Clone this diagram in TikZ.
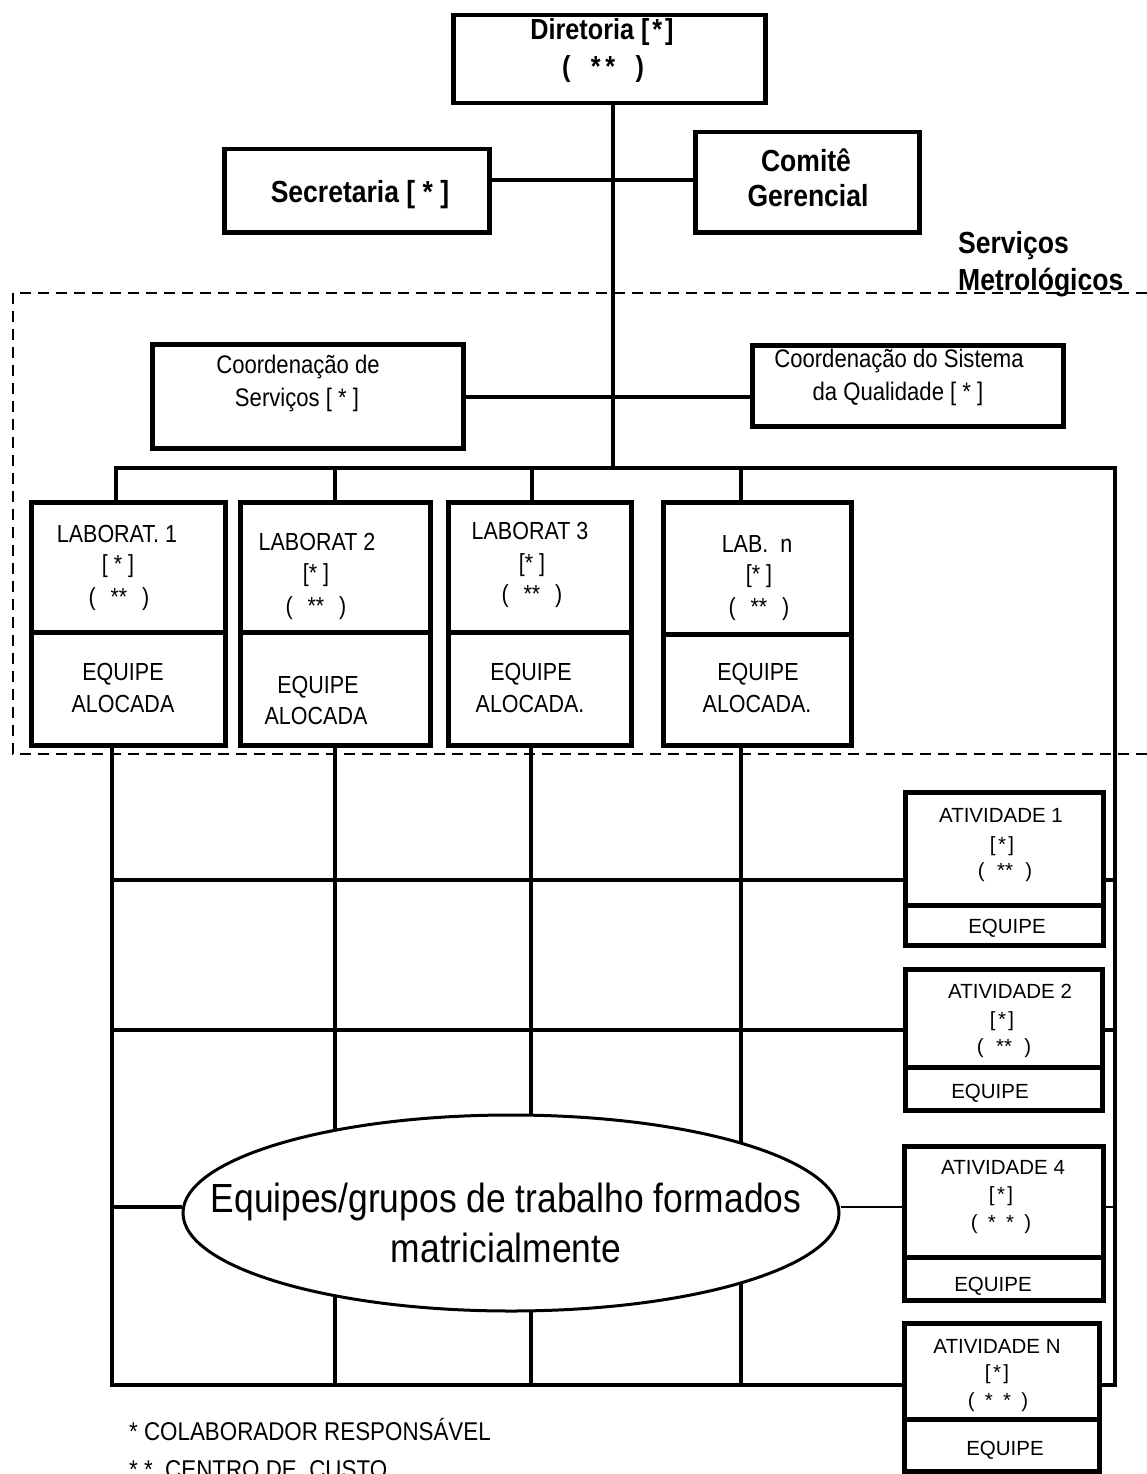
\documentclass[tikz,border=0pt]{standalone}
\usepackage{fontspec}
\setmainfont{Liberation Sans}
\newfontfamily\nar[FakeStretch=0.87]{Liberation Sans}
\usetikzlibrary{shapes.geometric}

% Bracketed markers used inside the boxes
\newcommand{\resp}{[\hspace{0.12em}*\hspace{0.12em}]}
\newcommand{\cc}{(\hspace{0.6em}**\hspace{0.6em})}
\newcommand{\ccs}{(\hspace{0.5em}*\hspace{0.5em}*\hspace{0.5em})}

\begin{document}
\begin{tikzpicture}[x=1pt,y=-1pt,
  box/.style={draw, line width=4.5pt, inner sep=0pt, anchor=north west},
  link/.style={line width=3.3pt},
  frame/.style={line width=2pt, dash pattern=on 11pt off 7pt},
  txt/.style={anchor=base, inner sep=0pt},
  hd/.style={txt, font=\nar\bfseries\fontsize{30.5}{36}\selectfont},
  hdtop/.style={txt, font=\nar\bfseries\fontsize{29}{34}\selectfont},
  co/.style={txt, font=\nar\fontsize{25.4}{30}\selectfont},
  lb/.style={txt, font=\nar\fontsize{24.7}{30}\selectfont},
  ac/.style={txt, font=\fontsize{20.5}{24}\selectfont},
  big/.style={txt, font=\nar\fontsize{40.7}{48}\selectfont},
  fn/.style={anchor=base west, inner sep=0pt, font=\nar\fontsize{25.7}{30}\selectfont}]
\useasboundingbox (0,0) rectangle (1147,1474);
\fill[white] (0,0) rectangle (1147,1474);

% Service area frame (open to the right)
\draw[frame] (1147,293) -- (13,293) -- (13,754) -- (1147,754);

% Top management
\node[box, minimum width=312, minimum height=88] (dir) at (451,13) {};
\node[hdtop] (dirA) at (602,40) {Diretoria [\hspace{0.1em}*\hspace{0.1em}]};
\node[hdtop] (dirB) at (603,77) {(\hspace{0.7em}*\,*\hspace{0.7em})};

\node[box, minimum width=265, minimum height=83] (sec) at (222,147) {};
\node[hd] (secA) at (360,203) {Secretaria [ * ]};

\node[box, minimum width=224, minimum height=100] (com) at (693,130) {};
\node[hd] (comA) at (806,172) {Comitê};
\node[hd] (comB) at (808,207) {Gerencial};

\node[hd, anchor=base west] (svA) at (958,253) {Serviços};
\node[hd, anchor=base west] (svB) at (958,290) {Metrológicos};

% Coordinations
\node[box, minimum width=311, minimum height=104] (cs) at (150,342) {};
\node[co] (csA) at (298,373) {Coordenação de};
\node[co] (csB) at (297,406) {Serviços [ *  ]};

\node[box, minimum width=311, minimum height=81] (cq) at (750,343) {};
\node[co] (cqA) at (899,367) {Coordenação do Sistema};
\node[co] (cqB) at (898,400) {da Qualidade [ * ]};

% Laboratories: head part and team part
\node[box, minimum width=194, minimum height=130] (l1) at (29,500) {};
\node[box, minimum width=194, minimum height=113] (l1e) at (29,630) {};
\node[box, minimum width=190, minimum height=130] (l2) at (238,500) {};
\node[box, minimum width=190, minimum height=113] (l2e) at (238,630) {};
\node[box, minimum width=183, minimum height=130] (l3) at (446,500) {};
\node[box, minimum width=183, minimum height=113] (l3e) at (446,630) {};
\node[box, minimum width=188, minimum height=132] (ln) at (661,500) {};
\node[box, minimum width=188, minimum height=111] (lne) at (661,632) {};

\node[lb] (l1a) at (117,542) {LABORAT. 1};
\node[lb] (l1b) at (118,572) {[ * ]};
\node[lb] (l1c) at (119,605) {\cc};
\node[lb] (l1d) at (123,680) {EQUIPE};
\node[lb] (l1f) at (123,712) {ALOCADA};

\node[lb] (l2a) at (317,550) {LABORAT 2};
\node[lb] (l2b) at (316,581) {[* ]};
\node[lb] (l2c) at (316,614) {\cc};
\node[lb] (l2d) at (318,693) {EQUIPE};
\node[lb] (l2f) at (316,724) {ALOCADA};

\node[lb] (l3a) at (530,539) {LABORAT 3};
\node[lb] (l3b) at (532,571) {[* ]};
\node[lb] (l3c) at (532,602) {\cc};
\node[lb] (l3d) at (531,680) {EQUIPE};
\node[lb] (l3f) at (530,712) {ALOCADA.};

\node[lb] (lna) at (757,552) {LAB.\ \ n};
\node[lb] (lnb) at (759,582) {[* ]};
\node[lb] (lnc) at (759,615) {\cc};
\node[lb] (lnd) at (758,680) {EQUIPE};
\node[lb] (lnf) at (757,712) {ALOCADA.};

% Activities: head part and team part
\node[box, minimum width=198, minimum height=113] (a1) at (903,790) {};
\node[box, minimum width=198, minimum height=40] (a1e) at (903,903) {};
\node[box, minimum width=197, minimum height=98] (a2) at (903,967) {};
\node[box, minimum width=197, minimum height=43] (a2e) at (903,1065) {};
\node[box, minimum width=199, minimum height=111] (a4) at (902,1144) {};
\node[box, minimum width=199, minimum height=43] (a4e) at (902,1255) {};
\node[box, minimum width=195, minimum height=96] (an) at (902,1321) {};
\node[box, minimum width=195, minimum height=52] (ane) at (902,1417) {};

\node[ac] (a1a) at (1001,822) {ATIVIDADE 1};
\node[ac] (a1b) at (1002,851) {\resp};
\node[ac] (a1c) at (1005,877) {\cc};
\node[ac] (a1d) at (1007,933) {EQUIPE};

\node[ac] (a2a) at (1010,998) {ATIVIDADE 2};
\node[ac] (a2b) at (1002,1026) {\resp};
\node[ac] (a2c) at (1004,1053) {\cc};
\node[ac] (a2d) at (990,1098) {EQUIPE};

\node[ac] (a4a) at (1003,1174) {ATIVIDADE 4};
\node[ac] (a4b) at (1001,1201) {\resp};
\node[ac] (a4c) at (1001,1229) {\ccs};
\node[ac] (a4d) at (993,1291) {EQUIPE};

\node[ac] (ana) at (997,1353) {ATIVIDADE N};
\node[ac] (anb) at (997,1379) {\resp};
\node[ac] (anc) at (998,1407) {\ccs};
\node[ac] (and) at (1005,1455) {EQUIPE};

% Column coordinates of the matrix
\coordinate (hub) at (613,468);
\coordinate (rail) at (1115,468);
\coordinate (d1) at (116,468);
\coordinate (d2) at (335,468);
\coordinate (d3) at (532,468);
\coordinate (d4) at (741,468);
\coordinate (c1) at (112,1385);
\coordinate (c2) at (335,1385);
\coordinate (c3) at (531,1385);
\coordinate (c4) at (741,1385);
\coordinate (srow) at (0,180);
\coordinate (crow) at (0,397);

% Hierarchy links
\draw[link] (hub |- dir.south) -- (hub);
\draw[link] (sec.east |- srow) -- (com.west |- srow);
\draw[link] (cs.east |- crow) -- (cq.west |- crow);
\draw[link] (d1 |- l1.north) -- (d1) -- (rail) -- (rail |- c1) -- (an.east |- c1);
\draw[link] (d2) -- (d2 |- l2.north);
\draw[link] (d3) -- (d3 |- l3.north);
\draw[link] (d4) -- (d4 |- ln.north);

% Matrix columns
\draw[link] (c1 |- l1e.south) -- (c1) -- (an.west |- c1);
\draw[link] (c2 |- l2e.south) -- (c2);
\draw[link] (c3 |- l3e.south) -- (c3);
\draw[link] (c4 |- lne.south) -- (c4);

% Matrix rows
\coordinate (r1) at (112,880);
\coordinate (r2) at (112,1030);
\coordinate (r3) at (112,1207);
\draw[link] (r1) -- (r1 -| a1.west);
\draw[link] (r2) -- (r2 -| a2.west);
\draw[link] (a1.east |- r1) -- (rail |- r1);
\draw[link] (a2.east |- r2) -- (rail |- r2);

% Matrix team ellipse
\node[draw, ellipse, line width=3pt, fill=white, inner sep=0pt,
      minimum width=656, minimum height=196] (ell) at (511,1213) {};
\node[big] (e1) at (506,1212) {Equipes/grupos de trabalho formados};
\node[big] (e2) at (506,1262) {matricialmente};
\draw[link] (r3) -- (r3 -| ell.west);
\draw[link, line width=2.6pt] (ell.east |- r3) -- (r3 -| a4.west);
\draw[link, line width=2.6pt] (a4.east |- r3) -- (rail |- r3);

% Legend
\node[fn] (f1) at (129,1440) {* COLABORADOR RESPONSÁVEL};
\node[fn] (f2) at (129,1478) {* *\ \ CENTRO DE\ \ CUSTO};
\end{tikzpicture}
\end{document}
